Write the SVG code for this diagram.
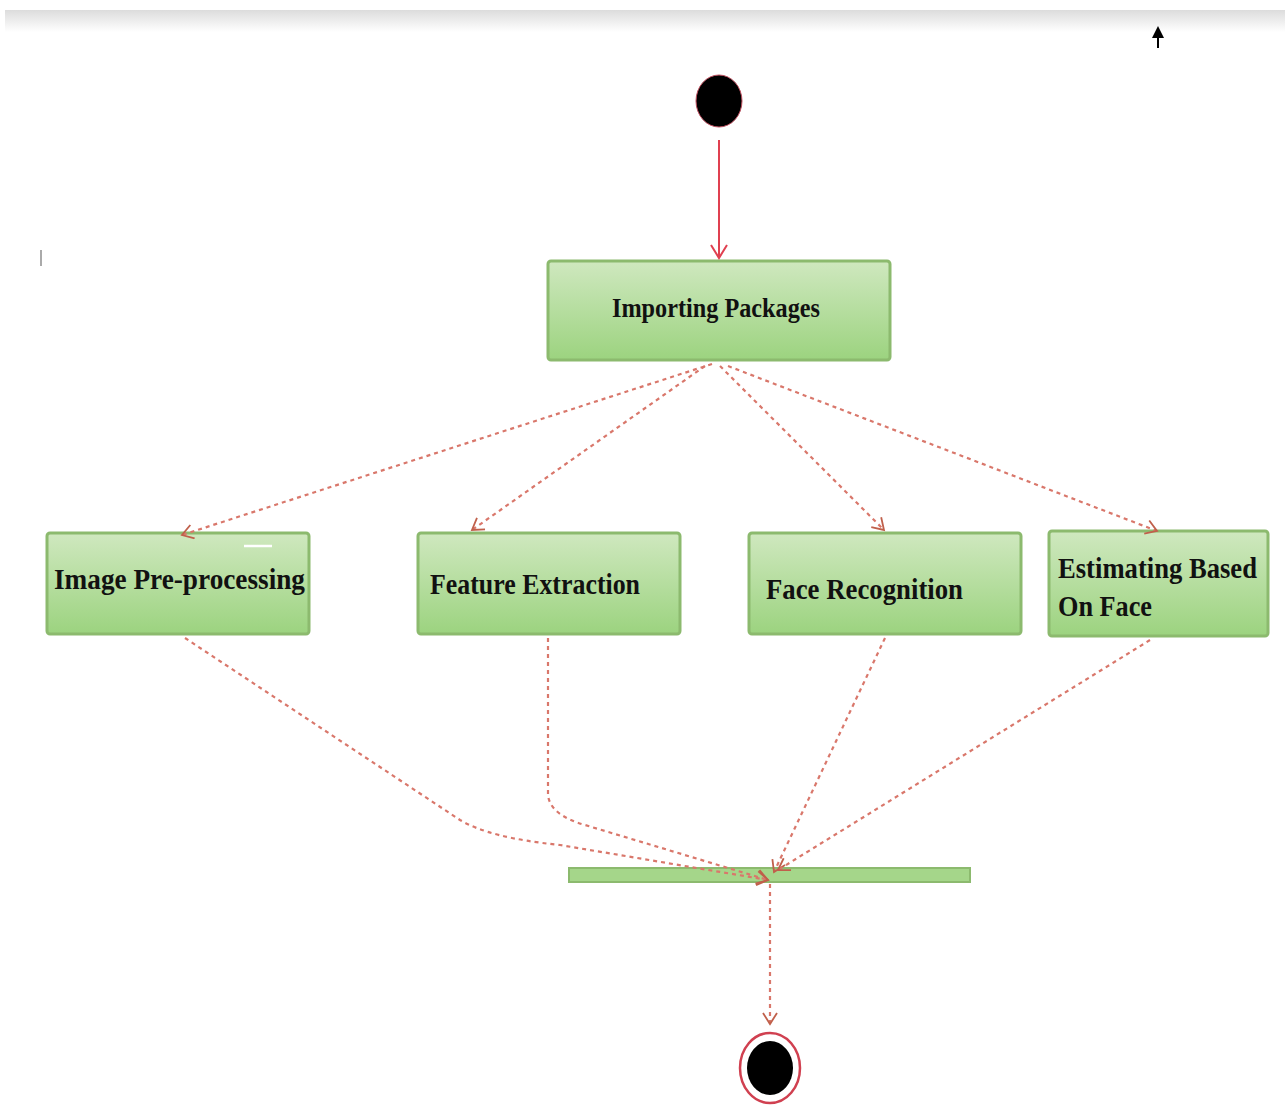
<svg xmlns="http://www.w3.org/2000/svg" width="1285" height="1105" viewBox="0 0 1285 1105">
<style>
.box{stroke:#8cba6e;stroke-width:3;fill:url(#g)}
.lbl{font-family:"Liberation Serif",serif;font-weight:bold;fill:#111}
.dash{fill:none;stroke:#d9776b;stroke-width:2.2;stroke-dasharray:4 4}
</style>
<defs>
<linearGradient id="g" x1="0" y1="0" x2="0" y2="1">
<stop offset="0" stop-color="#cfe8bf"/>
<stop offset="1" stop-color="#9cd37f"/>
</linearGradient>
<linearGradient id="top" x1="0" y1="0" x2="0" y2="1">
<stop offset="0" stop-color="#dcdcdc"/>
<stop offset="1" stop-color="#ffffff"/>
</linearGradient>
<marker id="open" markerWidth="16" markerHeight="16" refX="12" refY="8" orient="auto" markerUnits="userSpaceOnUse">
<path d="M1,1 L12,8 L1,15" fill="none" stroke="#c0604b" stroke-width="1.8"/>
</marker>
<marker id="solid" markerWidth="20" markerHeight="20" refX="14" refY="10" orient="auto" markerUnits="userSpaceOnUse">
<path d="M1,2 L14,10 L1,18" fill="none" stroke="#e04050" stroke-width="2"/>
</marker>
</defs>
<rect width="1285" height="1105" fill="#fff"/>
<rect x="5" y="10" width="1280" height="22" fill="url(#top)"/>
<path d="M1158,48 L1158,34" stroke="#000" stroke-width="2"/>
<path d="M1152,38 L1158,26 L1164,38 Z" fill="#000"/>
<line x1="41" y1="250" x2="41" y2="266" stroke="#aaa" stroke-width="2"/>

<g id="start"><ellipse cx="719" cy="101" rx="23" ry="26" fill="#000" stroke="#c05060" stroke-width="1"/></g>

<g id="importing"><rect class="box" x="548" y="261" width="342" height="99" rx="3"/>
<text class="lbl" x="716" y="317" font-size="28" font-weight="normal" text-anchor="middle" textLength="208" lengthAdjust="spacingAndGlyphs">Importing Packages</text></g>

<g id="preproc"><rect class="box" x="47" y="533" width="262" height="101" rx="3"/>
<line x1="244" y1="546" x2="272" y2="546" stroke="#fff" stroke-width="2.5"/>
<text class="lbl" x="54" y="589" font-size="30" textLength="251" lengthAdjust="spacingAndGlyphs">Image Pre-processing</text></g>

<g id="feature"><rect class="box" x="418" y="533" width="262" height="101" rx="3"/>
<text class="lbl" x="430" y="594" font-size="30" textLength="210" lengthAdjust="spacingAndGlyphs">Feature Extraction</text></g>

<g id="face"><rect class="box" x="749" y="533" width="272" height="101" rx="3"/>
<text class="lbl" x="766" y="599" font-size="30" textLength="197" lengthAdjust="spacingAndGlyphs">Face Recognition</text></g>

<g id="estimating"><rect class="box" x="1049" y="531" width="219" height="105" rx="3"/>
<text class="lbl" x="1058" y="578" font-size="30" textLength="199" lengthAdjust="spacingAndGlyphs">Estimating Based</text>
<text class="lbl" x="1058" y="616" font-size="30" textLength="94" lengthAdjust="spacingAndGlyphs">On Face</text></g>

<g id="join"><rect x="569" y="868" width="401" height="14" fill="#a5d68a" stroke="#8cba6e" stroke-width="2"/></g>

<g id="end"><ellipse cx="770" cy="1068" rx="30" ry="35" fill="#fff" stroke="#d04050" stroke-width="2.5"/>
<ellipse cx="770" cy="1068" rx="23" ry="27" fill="#000"/></g>

<g id="connectors">
<line x1="719" y1="140" x2="719" y2="258" stroke="#e04050" stroke-width="2" marker-end="url(#solid)"/>
<path class="dash" d="M712,364 L182,535" marker-end="url(#open)"/>
<path class="dash" d="M705,366 L472,530" marker-end="url(#open)"/>
<path class="dash" d="M720,366 L884,530" marker-end="url(#open)"/>
<path class="dash" d="M728,366 L1157,531" marker-end="url(#open)"/>
<path class="dash" d="M185,638 L460,820 Q490,838 560,845 L768,880" marker-end="url(#open)"/>
<path class="dash" d="M548,638 L548,795 Q550,815 585,825 L768,880" marker-end="url(#open)"/>
<path class="dash" d="M885,638 L774,872" marker-end="url(#open)"/>
<path class="dash" d="M1150,640 L778,870" marker-end="url(#open)"/>
<path class="dash" d="M770,884 L770,1024" marker-end="url(#open)"/>
</g>
</svg>
